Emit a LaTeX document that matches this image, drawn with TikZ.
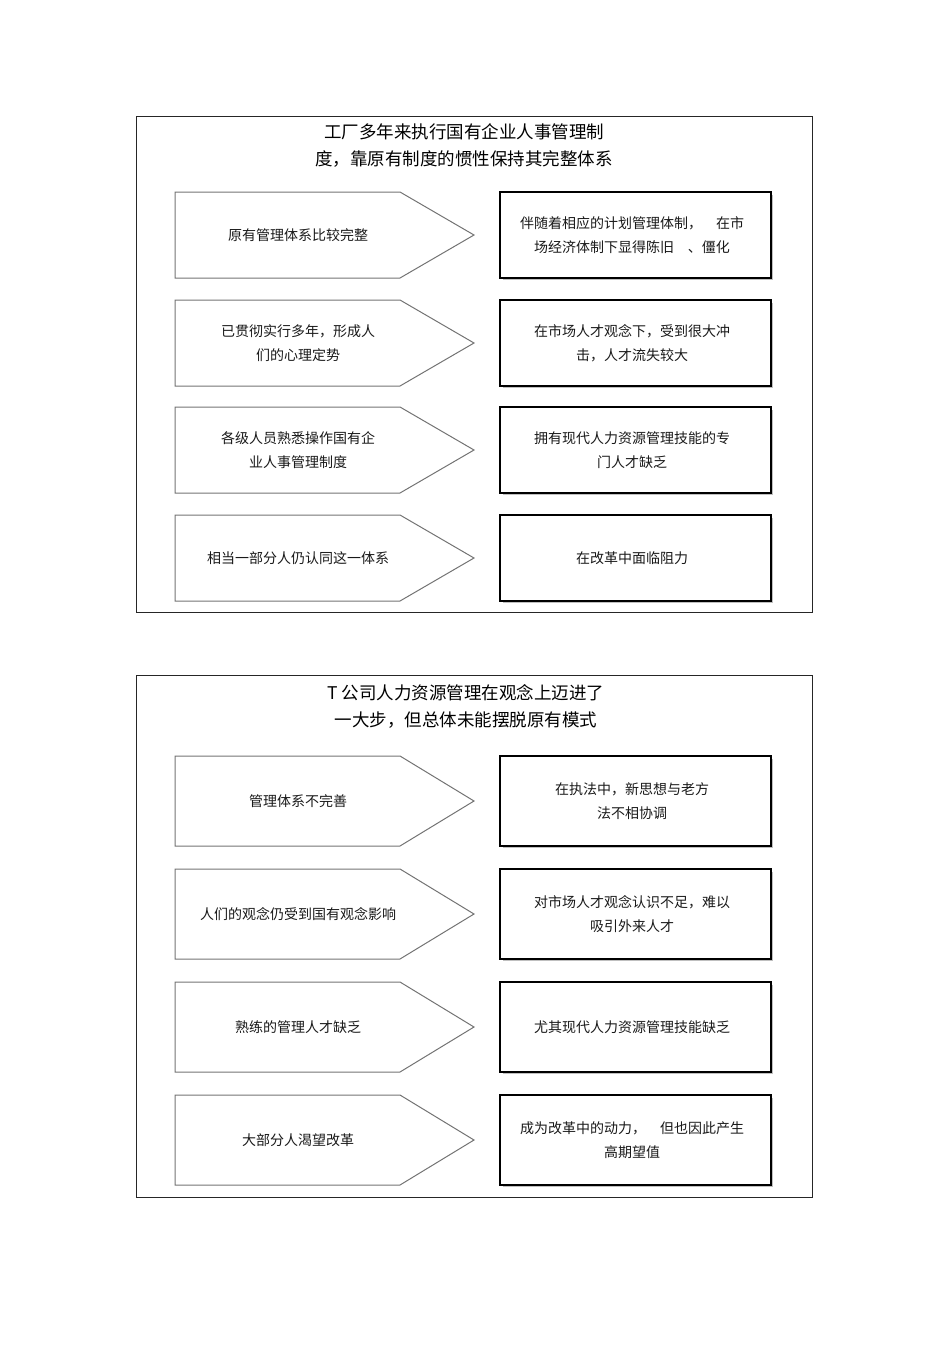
\documentclass[tikz,border=0pt]{standalone}
\usepackage{fontspec}
\setmainfont{Noto Sans CJK SC}
\begin{document}
\begin{tikzpicture}[x=1pt,y=-1pt,
  panel/.style={draw=black!85,line width=0.8pt},
  arrowbox/.style={draw=black!55,line width=1pt},
  rbox/.style={draw=black,line width=1.3pt},
  txt/.style={font=\fontsize{14}{24}\selectfont,align=center,text=black!90,inner sep=0pt},
  ttl/.style={font=\fontsize{17.5}{27}\selectfont,align=center,inner sep=0pt}]
\useasboundingbox (0,0) rectangle (950,1345);
\draw[panel] (136,116) rectangle (812,612);
\draw[panel] (136,675) rectangle (812,1197);
\node[ttl] (t1) at (464,146) {工厂多年来执行国有企业人事管理制\\度，靠原有制度的惯性保持其完整体系};
\node[ttl] (t2) at (466,706) {T 公司人力资源管理在观念上迈进了\\一大步，但总体未能摆脱原有模式};
\newcommand{\rowpair}[5]{%
  \draw[arrowbox] (175,#1) -- (400,#1) -- (474,{(#1+#2)/2}) -- (400,#2) -- (175,#2) -- cycle;
  \draw[black!25,line width=1.5pt] (503,#2+1.5) -- (772.5,#2+1.5) -- (772.5,#1+3);
  \draw[rbox] (500,#1) rectangle (771,#2);
  \node[txt] (a#5) at (298,{(#1+#2)/2}) {#3};
  \node[txt] (b#5) at (632,{(#1+#2)/2}) {#4};}
\rowpair{192}{278}{原有管理体系比较完整}{伴随着相应的计划管理体制，\quad 在市\\场经济体制下显得陈旧\quad 、僵化}{1}
\rowpair{300}{386}{已贯彻实行多年，形成人\\们的心理定势}{在市场人才观念下，受到很大冲\\击，人才流失较大}{2}
\rowpair{407}{493}{各级人员熟悉操作国有企\\业人事管理制度}{拥有现代人力资源管理技能的专\\门人才缺乏}{3}
\rowpair{515}{601}{相当一部分人仍认同这一体系}{在改革中面临阻力}{4}
\rowpair{756}{846}{管理体系不完善}{在执法中，新思想与老方\\法不相协调}{5}
\rowpair{869}{959}{人们的观念仍受到国有观念影响}{对市场人才观念认识不足，难以\\吸引外来人才}{6}
\rowpair{982}{1072}{熟练的管理人才缺乏}{尤其现代人力资源管理技能缺乏}{7}
\rowpair{1095}{1185}{大部分人渴望改革}{成为改革中的动力，\quad 但也因此产生\\高期望值}{8}
\end{tikzpicture}
\end{document}
